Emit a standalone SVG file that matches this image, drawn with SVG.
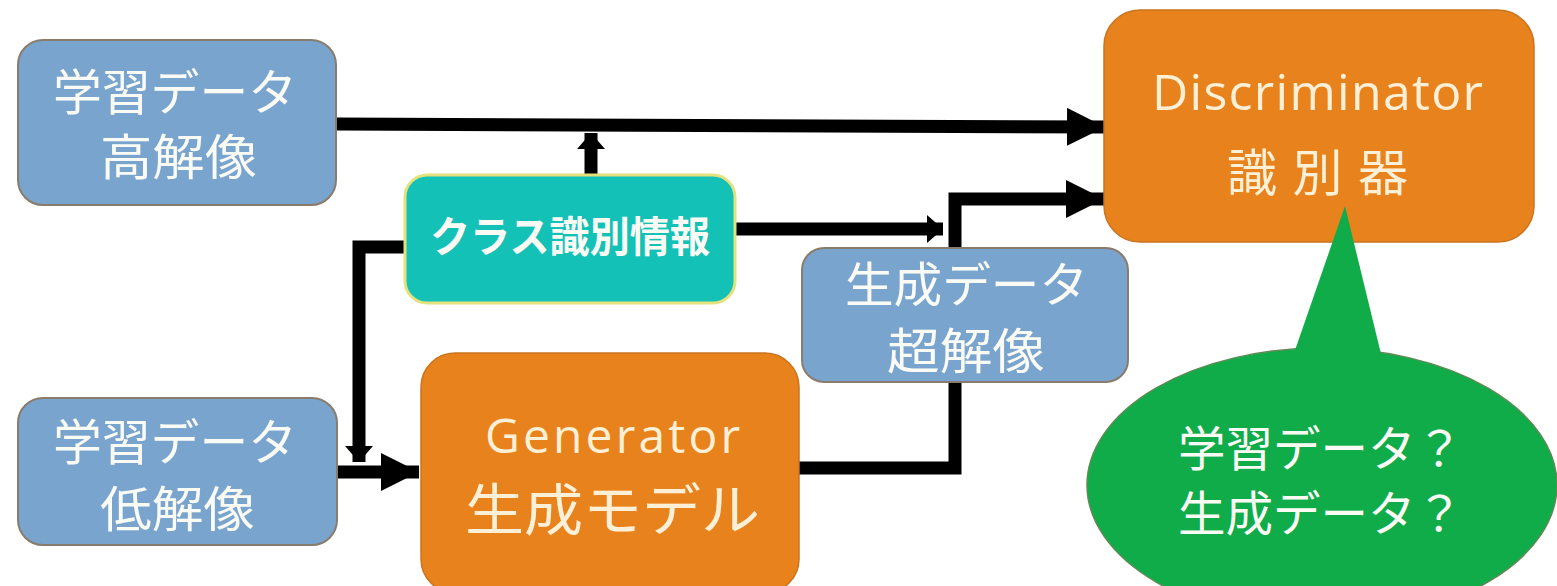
<svg xmlns="http://www.w3.org/2000/svg" width="1557" height="586" viewBox="0 0 1557 586">
<style>
.blue{fill:#79a4cd;stroke:#8a7c6c;stroke-width:2}
.orange{fill:#e8821c;stroke:#c97420;stroke-width:1.5}
.teal{fill:#14c1b6;stroke:#e4e27c;stroke-width:3}
.t{font-family:"Open Sans","Noto Sans CJK JP",sans-serif;fill:#fbfbf6}
.o{fill:#fdf0d6}
.j{font-family:"Noto Sans CJK JP",sans-serif}
.c{stroke:#000;stroke-width:13;fill:none}
</style>
<defs>
<marker id="big" markerUnits="userSpaceOnUse" markerWidth="40" markerHeight="40" refX="38" refY="19" orient="auto"><path d="M0,0 L38,19 L0,38 Z" fill="#000"/></marker>
<marker id="small" markerUnits="userSpaceOnUse" markerWidth="18" markerHeight="28" refX="16" refY="14" orient="auto"><path d="M0,0 L16,14 L0,28 Z" fill="#000"/></marker>
</defs>
<rect width="1557" height="586" fill="#ffffff"/>
<g id="connectors">
<path class="c" d="M337,124 L1105,127" marker-end="url(#big)"/>
<path class="c" d="M591,176 V133" marker-end="url(#small)"/>
<path class="c" d="M735,229 H943" marker-end="url(#small)"/>
<path class="c" d="M406,247 H359 V462" marker-end="url(#small)"/>
<path class="c" d="M337,472 H419" marker-end="url(#big)"/>
<path class="c" d="M799,468 H955 V199 H1104" marker-end="url(#big)"/>
</g>
<g id="hires">
<rect class="blue" x="18" y="40" width="318" height="165" rx="25"/>
<text class="t j" x="53" y="110" font-size="49" textLength="244" lengthAdjust="spacingAndGlyphs">学習データ</text>
<text class="t j" x="100" y="175" font-size="49" textLength="157" lengthAdjust="spacingAndGlyphs">高解像</text>
</g>
<g id="classinfo">
<rect class="teal" x="405" y="175" width="330" height="128" rx="22"/>
<text class="t j" x="430" y="252" font-size="42" font-weight="bold" textLength="280" lengthAdjust="spacingAndGlyphs">クラス識別情報</text>
</g>
<g id="lowres">
<rect class="blue" x="18" y="398" width="319" height="147" rx="25"/>
<text class="t j" x="53" y="460" font-size="49" textLength="244" lengthAdjust="spacingAndGlyphs">学習データ</text>
<text class="t j" x="100" y="527" font-size="49" textLength="155" lengthAdjust="spacingAndGlyphs">低解像</text>
</g>
<g id="generator">
<rect class="orange" x="421" y="353" width="378" height="240" rx="34"/>
<text class="t o" x="485" y="453" font-size="48" textLength="255" lengthAdjust="spacing">Generator</text>
<text class="t o j" x="465" y="530" font-size="56" textLength="295" lengthAdjust="spacingAndGlyphs">生成モデル</text>
</g>
<g id="superres">
<rect class="blue" x="802" y="248" width="326" height="134" rx="22"/>
<text class="t j" x="845" y="302" font-size="48" textLength="243" lengthAdjust="spacingAndGlyphs">生成データ</text>
<text class="t j" x="887" y="369" font-size="49" textLength="158" lengthAdjust="spacingAndGlyphs">超解像</text>
</g>
<g id="discriminator">
<rect class="orange" x="1104" y="10" width="430" height="232" rx="36"/>
<text class="t o" x="1152" y="110" font-size="50" textLength="331" lengthAdjust="spacing">Discriminator</text>
<text class="t o j" x="1227" y="191" font-size="50" textLength="181" lengthAdjust="spacing">識別器</text>
</g>
<g id="bubble">
<ellipse cx="1322" cy="485" rx="235" ry="137" fill="#10ac4a" stroke="#5d8a55" stroke-width="1.5"/>
<path d="M1293,356 L1345,206 L1382,358 Z" fill="#10ac4a"/>
<text class="t j" x="1178" y="466" font-size="48" textLength="285" lengthAdjust="spacingAndGlyphs">学習データ？</text>
<text class="t j" x="1178" y="531" font-size="48" textLength="285" lengthAdjust="spacingAndGlyphs">生成データ？</text>
</g>
</svg>
